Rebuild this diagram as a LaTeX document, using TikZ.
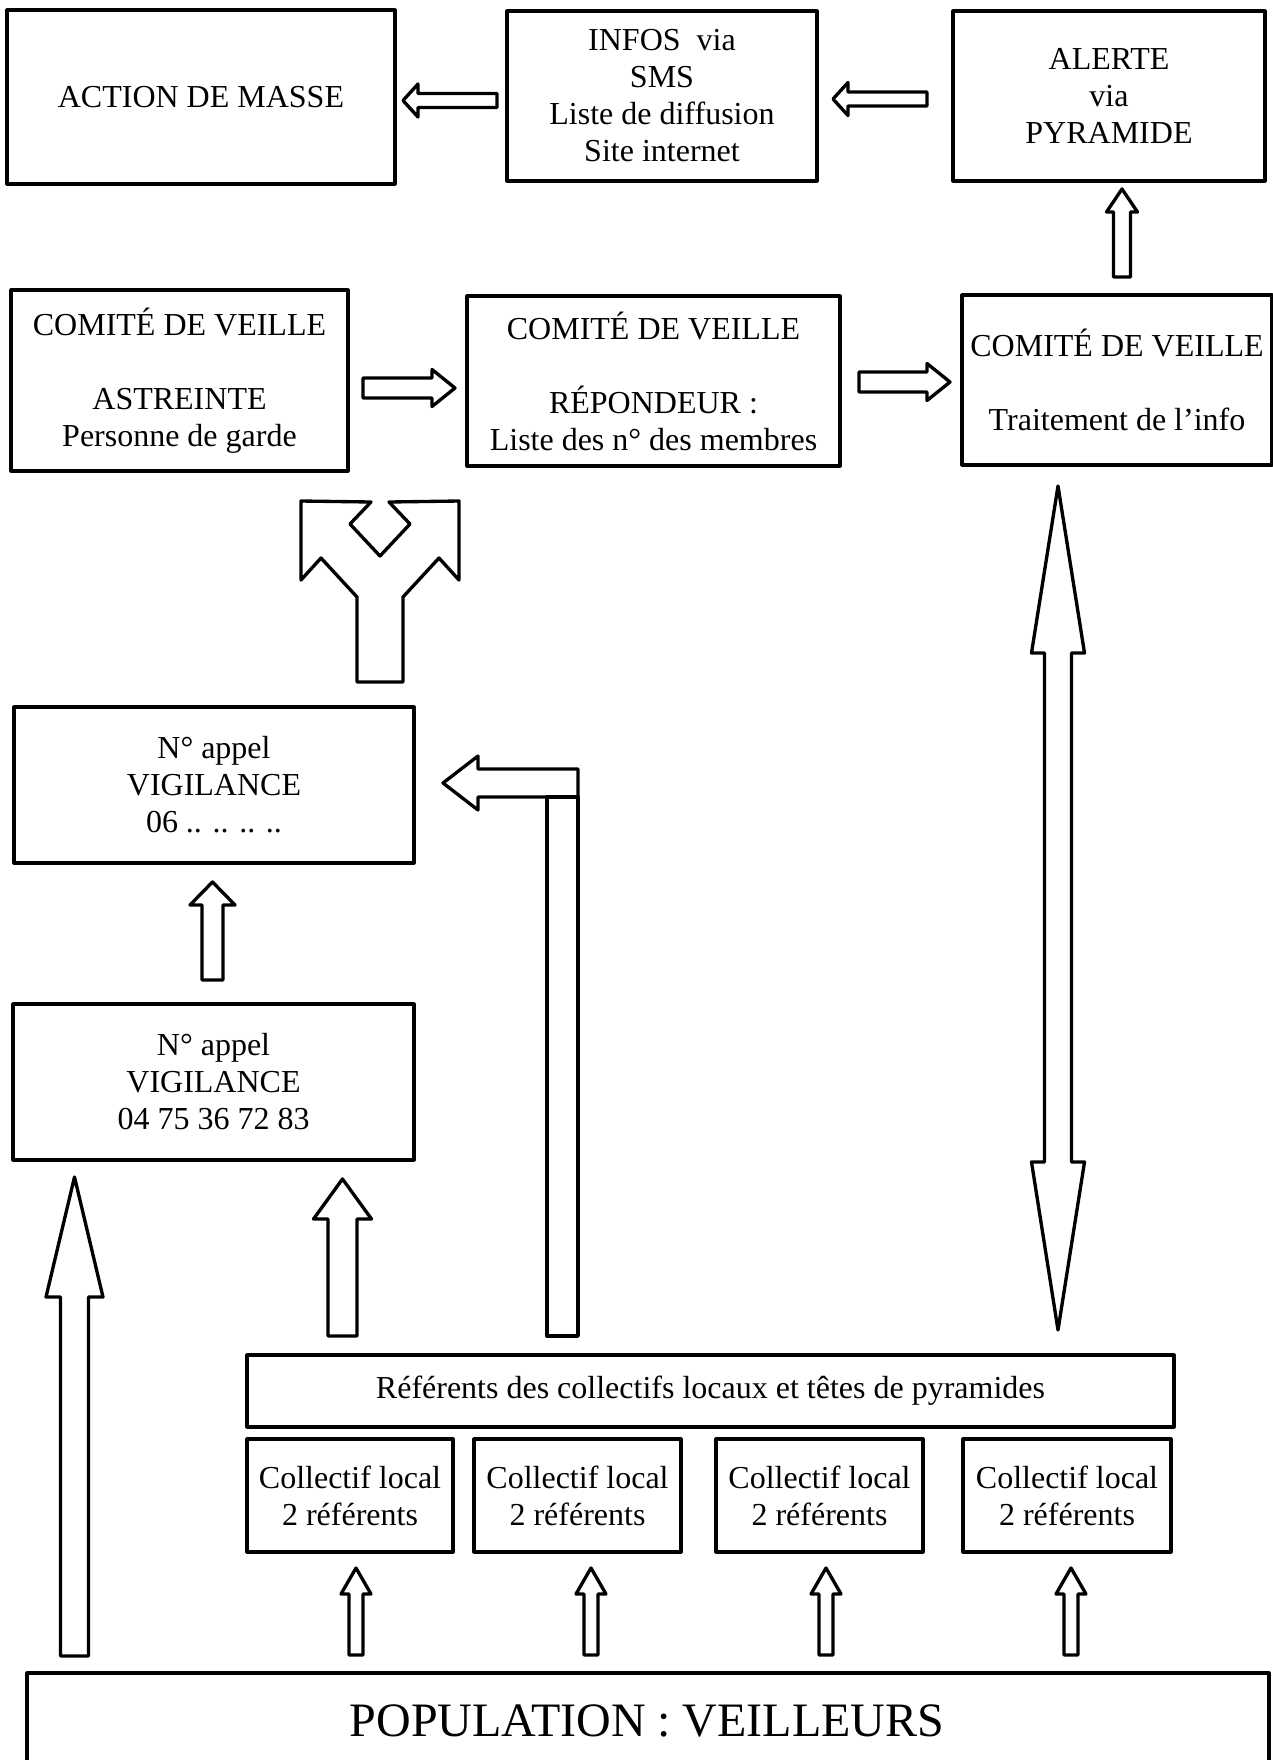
\documentclass[tikz,border=0pt]{standalone}
\usepackage{fontspec}
\setmainfont{Liberation Serif}
\newcommand{\myuparrow}[6]{% x, tip y, head base y, head half, shaft half, bottom y
  \draw[blk] ({#1},#2) -- ({#1+#4},#3) -- ({#1+#5},#3) -- ({#1+#5},#6) -- ({#1-#5},#6) -- ({#1-#5},#3) -- ({#1-#4},#3) -- cycle;}
\newcommand{\myharrow}[6]{% y, tip x, head back x, head half, shaft half, tail x
  \draw[blk] (#2,{#1}) -- (#3,{#1-#4}) -- (#3,{#1-#5}) -- (#6,{#1-#5}) -- (#6,{#1+#5}) -- (#3,{#1+#5}) -- (#3,{#1+#4}) -- cycle;}
\newcommand{\boxnode}[6]{%
  \node[box,minimum width={#4*0.75pt},minimum height={#5*0.75pt}] (#1) at (#2,#3) {#6};}
\begin{document}
\begin{tikzpicture}[x=0.75pt,y=-0.75pt,
  box/.style={draw,line width=2.3pt,line join=round,inner sep=0pt,align=center,
    font=\fontsize{24pt}{27.75pt}\selectfont},
  blk/.style={draw,line width=2.5pt,line join=round}]
\useasboundingbox (0,0) rectangle (1273,1760);

% top row
\boxnode{action}{201}{97}{388}{174}{ACTION DE MASSE}
\boxnode{infos}{662}{96}{310}{170}{INFOS\ \ via\\SMS\\Liste de diffusion\\Site internet}
\boxnode{alerte}{1109}{96}{312}{170}{ALERTE\\via\\PYRAMIDE}

% second row
\boxnode{astreinte}{179.5}{380.5}{337}{181}{COMITÉ DE VEILLE\\[27.75pt]ASTREINTE\\Personne de garde}
\boxnode{repondeur}{653.5}{381}{373}{170}{COMITÉ DE VEILLE\\[27.75pt]RÉPONDEUR :\\Liste des n° des membres}
\boxnode{traitement}{1117}{380}{310}{170}{COMITÉ DE VEILLE\\[27.75pt]Traitement de l’info}

% left column
\boxnode{vig06}{214}{785}{400}{156}{N° appel\\VIGILANCE\\06 .. .. .. ..}
\boxnode{vig04}{213.5}{1082}{401}{156}{N° appel\\VIGILANCE\\04 75 36 72 83}

% referents and collectifs
\boxnode{referents}{710.5}{1391}{927}{72}{Référents des collectifs locaux et têtes de pyramides}
\boxnode{coll1}{350}{1495.5}{206}{113}{Collectif local\\2 référents}
\boxnode{coll2}{577.5}{1495.5}{207}{113}{Collectif local\\2 référents}
\boxnode{coll3}{819.5}{1495.5}{207}{113}{Collectif local\\2 référents}
\boxnode{coll4}{1067}{1495.5}{208}{113}{Collectif local\\2 référents}

% population
\draw[line width=2.3pt,line join=round] (27,1673) rectangle (1269,1769);
\node[font=\fontsize{36pt}{41pt}\selectfont,inner sep=0pt] (population) at (647,1721) {POPULATION : VEILLEURS};

% horizontal arrows, top row
\myharrow{100.5}{403}{418}{16.5}{7}{497}
\myharrow{99}{833}{848}{16.5}{7}{927}
% up arrow to ALERTE
\myuparrow{1122}{189}{212}{15.5}{8.5}{277}
% right arrows, second row
\myharrow{388}{455}{432}{18.5}{10}{363}
\myharrow{382}{950}{927}{18.5}{10}{859}

% split arrow
\draw[blk] (301,501) -- (371,502) -- (350,524) -- (380,556) -- (410,524) -- (389,502)
  -- (459,501) -- (459,580) -- (439,558) -- (403,597) -- (403,682) -- (357,682)
  -- (357,597) -- (321,558) -- (301,580) -- cycle;

% bent arrow
\myharrow{783}{443}{478}{27}{14}{578}
\draw[blk] (547,797) rectangle (578,1336);

% up arrow 04 -> 06
\myuparrow{212.5}{882}{905}{22.5}{10.5}{980}
% big left arrow
\myuparrow{74.5}{1177}{1297}{28.5}{14}{1656}
% arrow referents -> 04
\myuparrow{342.5}{1179}{1219}{29}{14.5}{1336}

% double arrow
\draw[blk] (1058,486) -- (1084.5,653) -- (1071.5,653) -- (1071.5,1162) -- (1084.5,1162)
  -- (1058,1330) -- (1031.5,1162) -- (1044.5,1162) -- (1044.5,653) -- (1031.5,653) -- cycle;

% small arrows population -> collectifs
\myuparrow{356}{1568}{1594}{15}{7}{1655}
\myuparrow{591}{1568}{1594}{15}{7}{1655}
\myuparrow{826}{1568}{1594}{15}{7}{1655}
\myuparrow{1071}{1568}{1594}{15}{7}{1655}
\end{tikzpicture}
\end{document}
